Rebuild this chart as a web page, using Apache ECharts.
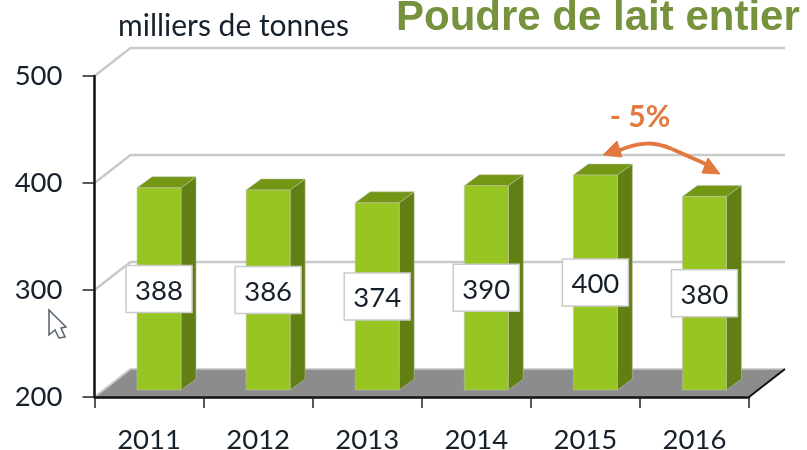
<!DOCTYPE html>
<html>
<head>
<meta charset="utf-8">
<style>html,body{margin:0;padding:0;background:#fff}#c{width:807px;height:450px}</style>
<script src="https://cdn.jsdelivr.net/npm/echarts@6/dist/echarts.min.js"></script>
</head>
<body>
<div id="c"></div>
<script>
var years = ['2011','2012','2013','2014','2015','2016'];
var tonnes = [388,386,374,390,400,380];
var wallTicks = [300,400,500];
var axisMin = 200, axisMax = 500, axisStep = 100;
var titleText = 'Poudre de lait entier';
var unitText = 'milliers de tonnes';
var changeText = '- 5%';

var textColor = '#15202b', font = 'Lato';
var DX = 36, DY = -28;           // depth of the chart floor
var chart = echarts.init(document.getElementById('c'), null, {renderer:'canvas'});

function renderWall(params, api){
  var p = api.coord([0, api.value(0)]);
  var x0 = params.coordSys.x, x1 = x0 + params.coordSys.width, y = p[1];
  return {type:'polyline', z2:1, shape:{points:[[x0,y],[x0+DX,y+DY],[x1+DX,y+DY]]},
    style:{fill:null, stroke:'#c9c9c9', lineWidth:2.4}};
}
function renderFloor(params, api){
  var c = params.coordSys, y = c.y + c.height, x0 = c.x, x1 = c.x + c.width;
  return {type:'group', children:[
    {type:'polygon', shape:{points:[[x0,y],[x0+DX,y+DY],[x1+DX,y+DY],[x1,y]]}, style:{fill:'#8c8c8c'}},
    {type:'line', shape:{x1:x0,y1:y,x2:x0+DX,y2:y+DY}, style:{stroke:'#c9c9c9',lineWidth:2}},
    {type:'line', shape:{x1:x0+DX,y1:y+DY,x2:x1+DX,y2:y+DY}, style:{stroke:'#c4c4c4',lineWidth:1.5}},
    {type:'line', shape:{x1:x1,y1:y,x2:x1+DX,y2:y+DY}, style:{stroke:'#111',lineWidth:2}}
  ]};
}
function renderBar(params, api){
  var i = api.value(0), v = api.value(1);
  var cx = api.coord([i, v])[0] + 10;
  var top = api.coord([i, v])[1] - 8;
  var bottom = api.coord([i, axisMin])[1] - 7;
  var w = 44, sx = 15, sy = -11, l = cx - w/2, r = cx + w/2;
  var edge = 'rgba(190,195,170,0.55)';
  return {type:'group', children:[
    {type:'polygon', shape:{points:[[r,top],[r+sx,top+sy],[r+sx,bottom+sy],[r,bottom]]},
      style:{fill:'#627f14', stroke:edge, lineWidth:1}},
    {type:'polygon', shape:{points:[[l,top],[l+sx,top+sy],[r+sx,top+sy],[r,top]]},
      style:{fill:'#739615', stroke:edge, lineWidth:1}},
    {type:'rect', shape:{x:l,y:top,width:w,height:bottom-top},
      style:{fill:'#97c623', stroke:edge, lineWidth:1}},
    {type:'rect', z2:5, shape:{x:cx-33,y:(top+bottom)/2-23.5,width:66,height:47},
      style:{fill:'#fff', stroke:'#cbcbcb', lineWidth:1.5}},
    {type:'text', z2:6, style:{x:cx, y:(top+bottom)/2+2, text:String(v), align:'center', verticalAlign:'middle',
      font:'27.5px '+font, fill:textColor}}
  ]};
}

chart.setOption({
  animation:false,
  backgroundColor:'#fff',
  title:[
    {text:titleText, left:391, top:-8, textStyle:{fontFamily:'Liberation Sans',fontWeight:'bold',fontSize:42,color:'#76923c'}},
    {text:unitText, left:113, top:6, textStyle:{fontFamily:font,fontWeight:'normal',fontSize:30,color:textColor}}
  ],
  grid:{left:94.5, right:58, top:76, bottom:53, containLabel:false, outerBoundsMode:'none'},
  xAxis:{type:'category', data:years, z:6,
    axisLine:{lineStyle:{color:'#111',width:2.5}},
    axisTick:{show:true, length:11, alignWithLabel:false, lineStyle:{color:'#222',width:1.5}},
    axisLabel:{fontFamily:font, fontSize:27.5, color:textColor, margin:29}},
  yAxis:{type:'value', min:axisMin, max:axisMax, interval:axisStep, z:6,
    axisLine:{show:true, lineStyle:{color:'#111',width:2.5}},
    axisTick:{show:true, length:12, lineStyle:{color:'#222',width:1.5}},
    axisLabel:{fontFamily:font, fontSize:27.5, color:textColor, margin:32, padding:[4,0,0,0]},
    splitLine:{show:false}},
  series:[
    {type:'custom', z:1, silent:true, clip:false, data:[[0]], renderItem:renderFloor, encode:{y:0}},
    {type:'custom', z:2, silent:true, clip:false, data:wallTicks.map(function(t){return [t];}), renderItem:renderWall, encode:{y:0}},
    {type:'custom', z:3, silent:true, clip:false, data:tonnes.map(function(v,i){return [i,v];}), renderItem:renderBar, encode:{x:0,y:1}}
  ],
  graphic:[
    {type:'text', z:20, x:640, y:117, style:{text:changeText, align:'center', verticalAlign:'middle',
      font:'bold 30px '+font, fill:'#e2793f'}},
    {type:'bezierCurve', z:20, shape:{x1:618,y1:151,cpx1:640,cpy1:141,cpx2:655,cpy2:142,x2:672,y2:149},
      style:{fill:null, stroke:'#e2793f', lineWidth:4}},
    {type:'line', z:20, shape:{x1:672,y1:149,x2:708,y2:165},
      style:{stroke:'#e2793f', lineWidth:4}},
    {type:'polygon', z:20, shape:{points:[[603,155],[617,141],[622,157]]}, style:{fill:'#e2793f', stroke:'#e2793f', lineWidth:1}},
    {type:'polygon', z:20, shape:{points:[[720,174],[702,173],[708,158]]}, style:{fill:'#e2793f', stroke:'#e2793f', lineWidth:1}},
    {type:'polygon', z:20, shape:{points:[[49,310],[49,335],[55,330],[59,338],[65,337],[61,328],[66,327]]},
      style:{fill:'#fff', stroke:'#555f6b', lineWidth:1.5}}
  ]
});
</script>
</body>
</html>
